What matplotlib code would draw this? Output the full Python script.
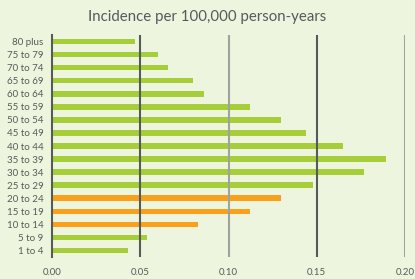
import matplotlib
matplotlib.use("Agg")
from matplotlib import pyplot as plt

# age groups, top to bottom as in the chart
ages = ["80 plus", "75 to 79", "70 to 74", "65 to 69", "60 to 64", "55 to 59",
        "50 to 54", "45 to 49", "40 to 44", "35 to 39", "30 to 34", "25 to 29",
        "20 to 24", "15 to 19", "10 to 14", "5 to 9", "1 to 4"]
incidence = [0.047, 0.060, 0.066, 0.080, 0.086, 0.112,
             0.130, 0.144, 0.165, 0.189, 0.177, 0.148,
             0.130, 0.112, 0.083, 0.054, 0.043]
highlight = ["20 to 24", "15 to 19", "10 to 14"]
xticks = [0.0, 0.05, 0.10, 0.15, 0.20]

bg = "#eef5df"
green = "#a6ce39"
orange = "#f9a11b"
text_col = "#595959"

plt.rcParams['font.family'] = ['Lato', 'DejaVu Sans']

fig = plt.figure(figsize=(4.15, 2.79), dpi=100, facecolor=bg)
ax = fig.add_axes([52/415, 1 - 257/279, (405 - 52)/415, (257 - 35)/279])
ax.set_facecolor(bg)

# plot bars (first label at the top)
n = len(ages)
ypos = [n - 1 - i for i in range(n)]
colors = [orange if a in highlight else green for a in ages]
ax.barh(ypos, incidence, height=0.42, color=colors, zorder=1)

# gridlines drawn over the bars, alternating dark/light
for i, x in enumerate(xticks):
    if x == 0:
        continue
    c = "#555b55" if i % 2 == 1 else "#a0a39a"
    ax.axvline(x, color=c, lw=1.5, zorder=3)

ax.set_xlim(0, 0.20)
ax.set_ylim(-0.5, n - 0.5)
ax.set_yticks(ypos)
ax.set_yticklabels(ages)
ax.set_xticks(xticks)
ax.set_xticklabels(["%.2f" % x for x in xticks])
ax.tick_params(axis="both", length=0, colors=text_col, labelsize=7)
ax.tick_params(axis="x", pad=8)
ax.tick_params(axis="y", pad=6)

for s in ["top", "right", "bottom"]:
    ax.spines[s].set_visible(False)
ax.spines["left"].set_color("#555b55")
ax.spines["left"].set_linewidth(1.5)
ax.spines["left"].set_zorder(4)

fig.text(0.5, 1 - 17/279, "Incidence per 100,000 person-years",
         ha="center", va="center", fontsize=10.8, color=text_col)

fig.savefig("out.png", dpi=100, facecolor=bg)
